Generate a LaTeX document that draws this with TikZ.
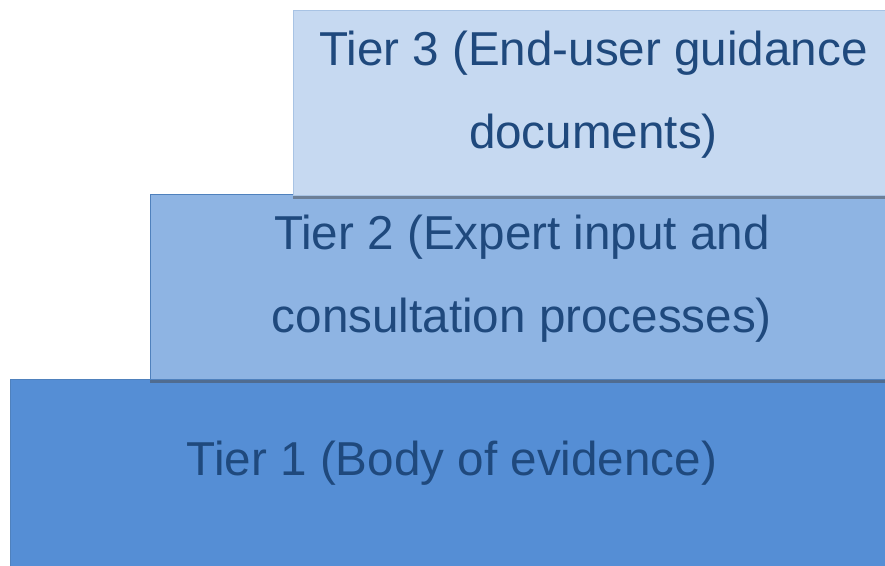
\documentclass[tikz,border=0pt]{standalone}
\usepackage{fontspec}
\setmainfont{Liberation Sans}
\usepackage{tikz}
\usetikzlibrary{positioning, shadows}
\definecolor{tiertext}{RGB}{31,73,125}
\definecolor{tierone}{RGB}{85,142,213}
\definecolor{tiertwo}{RGB}{142,180,227}
\definecolor{tierthree}{RGB}{198,217,241}
\definecolor{tieredge}{RGB}{79,129,189}

\begin{document}
\begin{tikzpicture}[
    x=1pt, y=-1pt,
    tier/.style={rectangle, draw=tieredge, line width=0.8pt, anchor=north west, inner sep=0pt,
        drop shadow={shadow xshift=0pt, shadow yshift=-4pt, opacity=0.5, fill=black!70}},
    caption/.style={font=\fontsize{47.6}{83}\selectfont, text=tiertext, align=center, inner sep=0pt}
]
\clip (0,0) rectangle (885,565);

% steps, bottom to top
\node[tier, fill=tierone, minimum width=883pt, minimum height=196pt] (tier1) at (10,379) {};
\node[tier, fill=tiertwo, minimum width=743pt, minimum height=185pt] (tier2) at (150,194) {};
\node[tier, fill=tierthree, draw=tierthree!75!tieredge, minimum width=600pt, minimum height=185pt] (tier3) at (293,10) {};

% labels
\node[caption, anchor=base] (cap1) at (452,475) {Tier 1 (Body of evidence)};
\node[caption, yshift=8pt] (cap2) at (tier2.center) {Tier 2 (Expert input and\\consultation processes)};
\node[caption, yshift=8pt] (cap3) at (tier3.center) {Tier 3 (End-user guidance\\documents)};
\end{tikzpicture}
\end{document}
